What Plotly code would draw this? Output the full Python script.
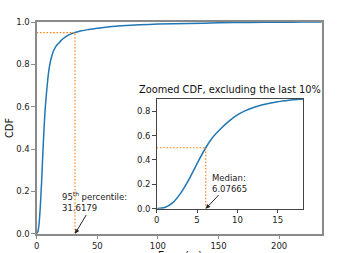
import plotly.graph_objects as go

# CDF
err_zoom = [0, 1, 2, 3, 4, 5, 6.08, 7, 8, 9, 10, 11, 12, 13, 14, 15, 16, 17, 18.2]
cdf_zoom = [0, 0.01, 0.05, 0.13, 0.24, 0.37, 0.5, 0.59, 0.66, 0.72, 0.77, 0.805, 0.83, 0.85, 0.865, 0.877, 0.886, 0.894, 0.9]

err_main = err_zoom + [20, 22, 25, 28, 31.6, 36, 42, 50, 60, 70, 85, 100, 125, 150, 175, 200, 220, 235]
cdf_main = cdf_zoom + [0.912, 0.922, 0.934, 0.943, 0.95, 0.957, 0.964, 0.97, 0.977, 0.982, 0.987, 0.99, 0.993, 0.996, 0.998, 0.999, 0.9995, 1.0]

p95_x, p95_y = 31.6179, 0.95
med_x, med_y = 6.07665, 0.5

main_xticks = [0, 50, 100, 150, 200]
main_yticks = [0.0, 0.2, 0.4, 0.6, 0.8, 1.0]
zoom_xticks = [0, 5, 10, 15]
zoom_yticks = [0.0, 0.2, 0.4, 0.6, 0.8]

blue = '#1f77b4'
orange = '#ff7f0e'
W, H = 354, 253
font = 'DejaVu Sans'

fig = go.Figure()
fig.add_trace(go.Scatter(x=err_main, y=cdf_main, mode='lines', line=dict(color=blue, width=1.5, shape='spline', smoothing=0.6),
                         xaxis='x', yaxis='y', showlegend=False, hoverinfo='skip'))
fig.add_trace(go.Scatter(x=[0, p95_x, p95_x], y=[p95_y, p95_y, 0], mode='lines',
                         line=dict(color=orange, width=1.2, dash='1.5px,1.8px'), xaxis='x', yaxis='y', showlegend=False))
fig.add_trace(go.Scatter(x=err_zoom, y=cdf_zoom, mode='lines', line=dict(color=blue, width=1.5, shape='spline', smoothing=0.6),
                         xaxis='x2', yaxis='y2', showlegend=False, hoverinfo='skip'))
fig.add_trace(go.Scatter(x=[0, med_x, med_x], y=[med_y, med_y, 0], mode='lines',
                         line=dict(color=orange, width=1.2, dash='1.5px,1.8px'), xaxis='x2', yaxis='y2', showlegend=False))

def px_x(p):
    return p / W

def px_y(p):
    return 1 - p / H

tickfont = dict(family=font, size=8.5, color='#222')
main_spine = '#8a8a8a'
zoom_spine = '#444'

fig.update_layout(
    width=W, height=H, margin=dict(l=0, r=0, t=0, b=0),
    paper_bgcolor='white', plot_bgcolor='white',
    font=dict(family=font, size=8.5, color='#222'),
    xaxis=dict(domain=[px_x(36.7), px_x(322)], range=[0, 235.4], tickvals=main_xticks, automargin=False,
               showgrid=False, zeroline=False, showline=True, mirror=True, linecolor=main_spine, linewidth=1.5,
               ticks='outside', ticklen=3.5, tickcolor=main_spine, tickfont=tickfont),
    yaxis=dict(domain=[px_y(233.7), px_y(22)], range=[0, 1], tickvals=main_yticks, tickformat='.1f', automargin=False,
               showgrid=False, zeroline=False, showline=True, mirror=True, linecolor=main_spine, linewidth=1.5,
               ticks='outside', ticklen=3.5, tickcolor=main_spine, tickfont=tickfont),
    xaxis2=dict(domain=[px_x(156.7), px_x(303.3)], range=[0, 18.17], tickvals=zoom_xticks, anchor='y2', automargin=False,
                showgrid=False, zeroline=False, showline=True, mirror=True, linecolor=zoom_spine, linewidth=1,
                ticks='outside', ticklen=3.5, tickcolor=zoom_spine, tickfont=tickfont),
    yaxis2=dict(domain=[px_y(208.7), px_y(99)], range=[0, 0.9], tickvals=zoom_yticks, tickformat='.1f', anchor='x2',
                automargin=False,
                showgrid=False, zeroline=False, showline=True, mirror=True, linecolor=zoom_spine, linewidth=1,
                ticks='outside', ticklen=3.5, tickcolor=zoom_spine, tickfont=tickfont),
)

annotations = [
    dict(text='95<sup>th</sup> percentile:<br>31.6179', x=p95_x, y=0, xref='x', yref='y',
         ax=47.3, ay=0.15, axref='x', ayref='y', showarrow=True, arrowhead=2, arrowsize=0.9,
         arrowwidth=1, arrowcolor='#222', align='left', font=dict(family=font, size=8.5, color='#222')),
    dict(text='Median:<br>6.07665', x=med_x, y=0, xref='x2', yref='y2',
         ax=9.08, ay=0.21, axref='x2', ayref='y2', showarrow=True, arrowhead=2, arrowsize=0.9,
         arrowwidth=1, arrowcolor='#222', align='left', font=dict(family=font, size=8.5, color='#222')),
    dict(text='Zoomed CDF, excluding the last 10%', x=px_x(230), y=px_y(90), xref='paper', yref='paper',
         showarrow=False, xanchor='center', yanchor='middle', font=dict(family=font, size=9.8, color='#111')),
    dict(text='CDF', x=px_x(10), y=px_y(128), xref='paper', yref='paper', textangle=-90,
         showarrow=False, xanchor='center', yanchor='middle', font=dict(family=font, size=9.8, color='#111')),
    dict(text='Error (m)', x=px_x(180), y=px_y(247.5), xref='paper', yref='paper',
         showarrow=False, xanchor='center', yanchor='top', font=dict(family=font, size=9.8, color='#111')),
]
fig.update_layout(annotations=annotations)

fig.write_html('out.html', config={'displayModeBar': False},
               post_script="document.body.style.margin='0px';document.body.style.overflow='hidden';")
